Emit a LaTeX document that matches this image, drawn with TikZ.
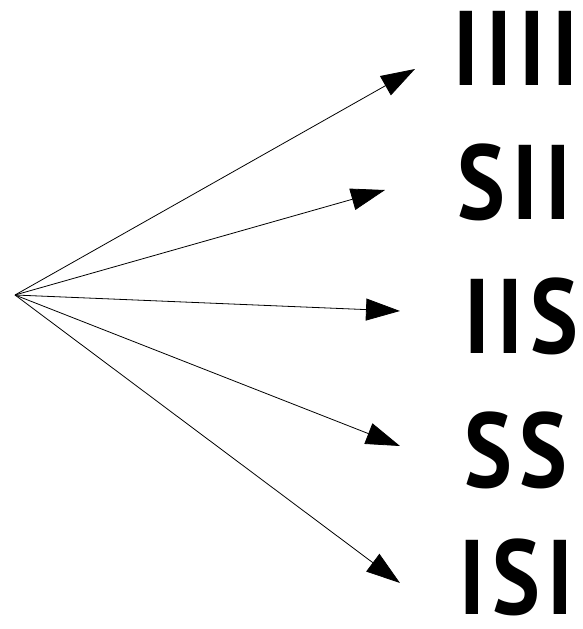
\documentclass[tikz,border=0pt]{standalone}
\usepackage{fontspec}
\newfontfamily\glyphfont{PT Sans}[FakeStretch=0.85, LetterSpace=7]
\usepackage{tikz}
\usetikzlibrary{arrows.meta, positioning}

\begin{document}
\begin{tikzpicture}[x=1pt, y=-1pt,
  word/.style={inner sep=0pt, font=\glyphfont\bfseries\fontsize{106pt}{110pt}\selectfont},
  arr/.style={-{Triangle[length=34pt, width=22pt]}, line width=0.8pt}]
\useasboundingbox (0,0) rectangle (583,629);
\coordinate (src) at (15,295);
% words
\node[word] (w1) at (516,48.5) {IIII};
\node[word] (w2) at (514,182.5) {SII};
\node[word] (w3) at (521,316) {IIS};
\node[word] (w4) at (516,450.5) {SS};
\node[word] (w5) at (516,577) {ISI};
% arrow tips
\coordinate (t1) at (415,69);
\coordinate (t2) at (385,190);
\coordinate (t3) at (400,311);
\coordinate (t4) at (400,446);
\coordinate (t5) at (400,583);

\draw[arr] (src) -- (t1);
\draw[arr] (src) -- (t2);
\draw[arr] (src) -- (t3);
\draw[arr] (src) -- (t4);
\draw[arr] (src) -- (t5);
\end{tikzpicture}
\end{document}
